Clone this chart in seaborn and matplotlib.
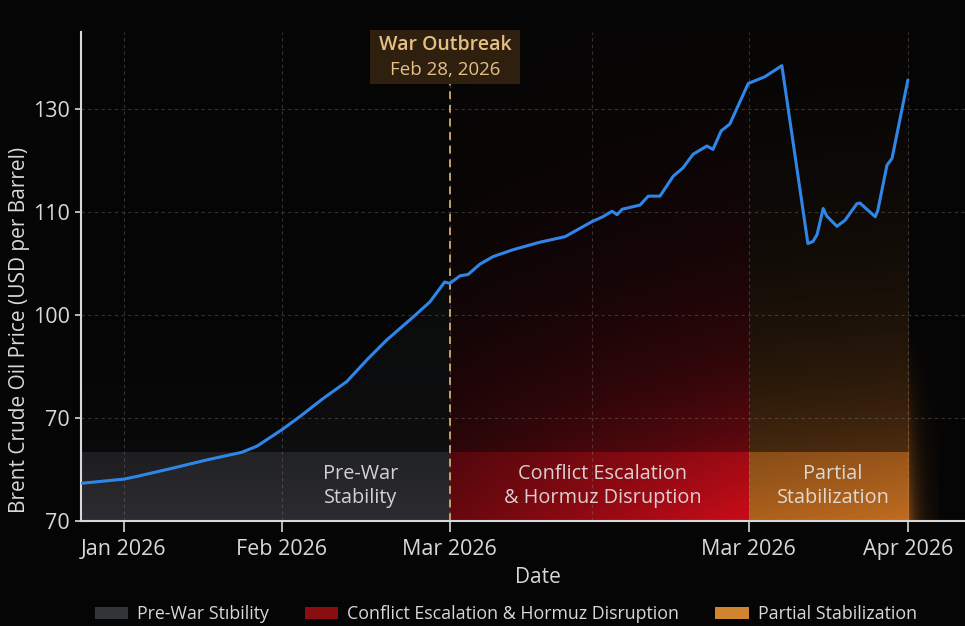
import numpy as np
import pandas as pd
import matplotlib
matplotlib.use("Agg")
import matplotlib.pyplot as plt
import seaborn as sns
from matplotlib.patches import Patch, Rectangle

# days counted from the "Jan 2026" tick (the source axis is not a true calendar)
days = [-8.2, 0, 2.6, 9.6, 16.3, 23.1, 26.1, 31.0, 34.5, 39.0,
        43.7, 47.7, 51.6, 56.1, 60.0, 62.9, 63.9, 65.9, 67.5, 69.8,
        72.4, 76.3, 81.6, 86.5, 91.8, 93.9, 95.7, 96.7, 97.7, 101.2,
        102.8, 105.1, 107.7, 109.6, 111.6, 114.3, 115.5, 117.1, 118.8, 122.4,
        125.7, 129.0, 134.1, 135.1, 135.9, 137.1, 137.8, 139.8, 141.4, 143.7,
        144.3, 147.3, 147.8, 149.6, 150.6, 153.7]
price = [75.5, 76.1, 76.5, 77.7, 78.9, 80.0, 80.9, 83.3, 85.2, 87.8,
         90.3, 93.5, 96.4, 99.3, 101.9, 104.8, 104.6, 105.7, 105.9, 107.4,
         108.5, 109.5, 110.6, 111.4, 113.6, 114.3, 115.1, 114.6, 115.4, 116.0,
         117.3, 117.3, 120.2, 121.4, 123.4, 124.6, 124.1, 126.8, 127.8, 133.7,
         134.7, 136.3, 110.4, 110.7, 111.7, 115.5, 114.4, 112.9, 113.8, 116.2,
         116.3, 114.3, 115.2, 121.8, 122.8, 134.2]

xtick_pos = [0, 31, 63.9, 122.5, 153.7]
xtick_labels = ["Jan 2026", "Feb 2026", "Mar 2026", "Mar 2026", "Apr 2026"]
ytick_pos = [70, 85, 100, 115, 130]
ytick_labels = ["70", "70", "100", "110", "130"]

war_day = 63.9
phase_edges = [-8.4, 63.9, 122.5, 153.7]
phase_labels = ["Pre-War\nStability", "Conflict Escalation\n& Hormuz Disruption", "Partial\nStabilization"]
legend_labels = ["Pre-War Stıbility", "Conflict Escalation & Hormuz Disruption", "Partial Stabilization"]
legend_colors = ["#333538", "#8a0d12", "#d0842e"]

df = pd.DataFrame({"Day": days, "Price": price})

sns.set_style("dark")
plt.rcParams["font.family"] = ["Open Sans", "DejaVu Sans"]

BG = "#050505"
XMIN, XMAX = -8.4, 164.9
YMIN, YTOP = 70, 141.2
BAND = 80
TXT = "#d8d8d8"

fig = plt.figure(figsize=(9.65, 6.26), dpi=100, facecolor=BG)
ax = fig.add_axes([0.0839, 0.1677, 0.9161, 0.7812])
ax.set_facecolor(BG)


def glow(x0, x1, y0, y1, rgb, a_lo, a_hi, fade, vertical=True, ramp=1.0):
    ny, nx = 120, 80
    t = np.linspace(0, 1, ny)[:, None]
    u = np.linspace(0, 1, nx)[None, :]
    xfac = (1 - ramp) + ramp * u
    if vertical:
        a = (a_lo + (a_hi - a_lo) * xfac) * np.exp(-t / fade)
    else:
        a = a_hi * np.exp(-u / fade) * (1 - t) ** 1.5
    img = np.zeros((ny, nx, 4))
    img[..., :3] = rgb
    img[..., 3] = np.clip(a, 0, 1)
    ax.imshow(img, extent=[x0, x1, y0, y1], origin="lower", aspect="auto",
              zorder=0, interpolation="bilinear")


# phase shading
e = phase_edges
glow(e[0], e[1], YMIN, BAND, (0.17, 0.17, 0.19), 0.92, 0.92, 3.0)
glow(e[0], e[1], BAND, YTOP, (0.17, 0.17, 0.19), 0.12, 0.12, 0.2)
glow(e[1], e[2], YMIN, BAND, (0.80, 0.05, 0.10), 0.5, 1.0, 4.0)
glow(e[1], e[2], BAND, YTOP, (0.80, 0.05, 0.10), 0.2, 0.48, 0.3)
glow(e[2], e[3], YMIN, BAND, (0.80, 0.45, 0.13), 0.85, 0.95, 4.0)
glow(e[2], e[3], BAND, YTOP, (0.80, 0.45, 0.13), 0.32, 0.36, 0.3)
glow(e[3], e[3] + 6, YMIN, 100, (0.80, 0.45, 0.13), 0.0, 0.6, 0.35, vertical=False)

pre = df[df["Day"] <= war_day]
ax.fill_between(pre["Day"], pre["Price"], YMIN, color="#9aa0b0", alpha=0.04,
                lw=0, zorder=1)

sns.lineplot(data=df, x="Day", y="Price", color="#2f86e8", linewidth=2.2,
             ax=ax, legend=False, zorder=3)

# war outbreak marker
ax.plot([war_day, war_day], [YMIN, 133.6], color="#c9a06a", lw=1.4,
        dashes=(4, 3), zorder=2, clip_on=False)
ax.add_patch(Rectangle((48.2, 133.6), 29.4, 7.9, facecolor="#2e1f0e",
                       edgecolor="none", zorder=4, clip_on=False))
ax.text(63.0, 139.3, "War Outbreak", ha="center", va="center", fontsize=14,
        fontweight="semibold", color="#e6bf85", zorder=5, clip_on=False)
ax.text(63.0, 135.7, "Feb 28, 2026", ha="center", va="center", fontsize=13.5,
        color="#e6bf85", zorder=5, clip_on=False)

# phase labels
for i, lab in enumerate(phase_labels):
    cx = [46.5, 93.9, 139.0][i]
    ax.text(cx, 75.1, lab, ha="center", va="center", fontsize=14.3,
            color="#e6e6e6", alpha=0.9, linespacing=1.25, zorder=4)

ax.set_xlim(XMIN, XMAX)
ax.set_ylim(YMIN, YTOP)
ax.set_xticks(xtick_pos)
ax.set_xticklabels(xtick_labels)
ax.set_xticks([91.8], minor=True)
ax.set_yticks(ytick_pos)
ax.set_yticklabels(ytick_labels)

ax.set_axisbelow(True)
ax.grid(True, which="both", color="#9a9a9a", alpha=0.3, lw=0.8,
        linestyle=(0, (3, 3)))
ax.tick_params(axis="x", which="major", colors=TXT, labelcolor=TXT,
               length=8, width=1.2, pad=5, labelsize=15.5, direction="out",
               bottom=True)
ax.tick_params(axis="x", which="minor", length=0)
ax.tick_params(axis="y", colors=TXT, labelcolor=TXT, length=4,
               width=1.2, pad=4, labelsize=15.5, direction="out", left=True)

for s in ["top", "right"]:
    ax.spines[s].set_visible(False)
for s in ["left", "bottom"]:
    ax.spines[s].set_visible(True)
    ax.spines[s].set_color(TXT)
    ax.spines[s].set_linewidth(1.5)

ax.set_xlabel("Date", fontsize=15, color=TXT)
ax.set_ylabel("Brent Crude Oil Price (USD per Barrel)", fontsize=15, color=TXT)
ax.xaxis.set_label_coords(0.517, -0.094)
ax.yaxis.set_label_coords(-0.058, 0.39)

handles = [Patch(facecolor=c, edgecolor="none", label=l)
           for c, l in zip(legend_colors, legend_labels)]
fig.legend(handles=handles, loc="center", bbox_to_anchor=(0.524, 0.019),
           ncol=3, frameon=False, fontsize=12.8, labelcolor=TXT,
           handlelength=1.9, handleheight=0.7, columnspacing=2.0,
           handletextpad=0.5)

fig.savefig("out.png", dpi=100, facecolor=BG)
